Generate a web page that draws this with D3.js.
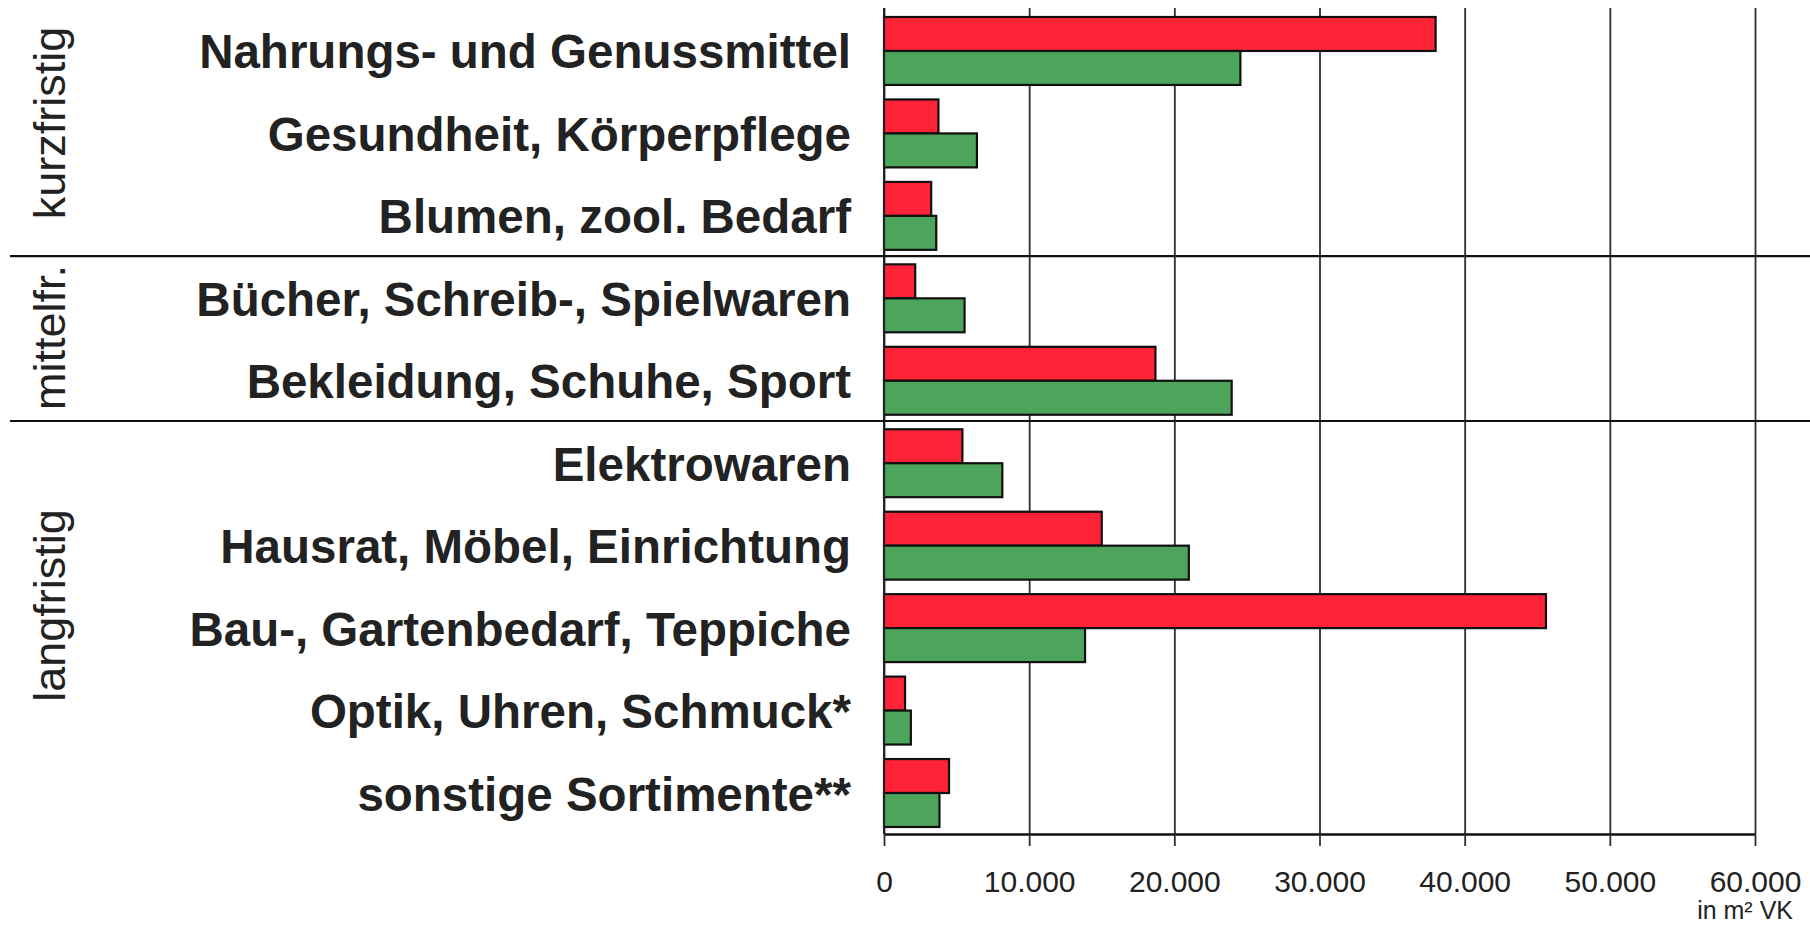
<!DOCTYPE html>
<html>
<head>
<meta charset="utf-8">
<script src="https://cdn.jsdelivr.net/npm/d3@7/dist/d3.min.js"></script>
<style>
  body { margin: 0; background: #fff; }
  svg { display: block; font-family: "Liberation Sans", Arial, sans-serif; }
</style>
</head>
<body>
<div id="chart"></div>
<script>
// Verkaufsfläche je Sortiment (m² VK)
const categories = [
  "Nahrungs- und Genussmittel",
  "Gesundheit, Körperpflege",
  "Blumen, zool. Bedarf",
  "Bücher, Schreib-, Spielwaren",
  "Bekleidung, Schuhe, Sport",
  "Elektrowaren",
  "Hausrat, Möbel, Einrichtung",
  "Bau-, Gartenbedarf, Teppiche",
  "Optik, Uhren, Schmuck*",
  "sonstige Sortimente**"
];
const redValues   = [38000, 3750, 3250, 2150, 18700, 5400, 15000, 45600, 1450, 4480];
const greenValues = [24550, 6400, 3600, 5550, 23950, 8150, 21000, 13850, 1850, 3820];

const groupNames = ["kurzfristig", "mittelfr.", "langfristig"];
const groupSizes = [3, 2, 5];

const xTicks = [0, 10000, 20000, 30000, 40000, 50000, 60000];
const unitLabel = "in m² VK";

// ---- layout ----
const width = 1810, height = 927;
const plotLeft = 884, plotRight = 1755;
const plotTop = 10, plotBottom = 834;
const gridTop = 8;

const svg = d3.select("#chart").append("svg")
  .attr("width", width)
  .attr("height", height);

svg.append("rect").attr("width", width).attr("height", height).attr("fill", "#fff");

const x = d3.scaleLinear().domain([0, 60000]).range([plotLeft, plotRight]);
const y = d3.scaleBand().domain(categories)
  .range([plotTop, plotBottom])
  .paddingInner(0.176)
  .paddingOuter(0.085);

const de = d3.formatLocale({ decimal: ",", thousands: ".", grouping: [3], currency: ["", " €"] });
const fmt = de.format(",");

// gridlines (behind bars)
svg.append("g")
  .attr("transform", `translate(0,${plotBottom})`)
  .call(d3.axisBottom(x).tickValues(xTicks).tickSize(-(plotBottom - gridTop)).tickFormat(""))
  .call(g => g.select(".domain").remove())
  .call(g => g.selectAll(".tick line").attr("stroke", "#2e2e2e").attr("stroke-width", 1.8));

// bars
const bars = svg.append("g");
const half = y.bandwidth() / 2;
const rows = categories.map((c, i) => ({ cat: c, red: redValues[i], green: greenValues[i] }));

bars.selectAll(".bar-red").data(rows).join("rect")
  .attr("class", "bar-red")
  .attr("x", x(0))
  .attr("y", d => y(d.cat))
  .attr("width", d => x(d.red) - x(0))
  .attr("height", half)
  .attr("fill", "#ff2338")
  .attr("stroke", "#111")
  .attr("stroke-width", 2.2);

bars.selectAll(".bar-green").data(rows).join("rect")
  .attr("class", "bar-green")
  .attr("x", x(0))
  .attr("y", d => y(d.cat) + half)
  .attr("width", d => x(d.green) - x(0))
  .attr("height", half)
  .attr("fill", "#4ca55a")
  .attr("stroke", "#111")
  .attr("stroke-width", 2.2);

// bottom axis with ticks and labels
svg.append("g")
  .attr("transform", `translate(0,${plotBottom})`)
  .call(d3.axisBottom(x).tickValues(xTicks).tickSize(12).tickSizeOuter(0).tickPadding(25).tickFormat(fmt))
  .call(g => g.select(".domain").attr("stroke", "#111").attr("stroke-width", 2.6))
  .call(g => g.selectAll(".tick line").attr("stroke", "#2e2e2e").attr("stroke-width", 1.8))
  .call(g => g.selectAll(".tick text")
    .attr("font-size", 30)
    .attr("font-family", "'Liberation Sans', Arial, sans-serif")
    .attr("fill", "#222"));

// zero line
svg.append("line")
  .attr("x1", x(0)).attr("x2", x(0))
  .attr("y1", gridTop).attr("y2", plotBottom)
  .attr("stroke", "#222").attr("stroke-width", 2);

svg.append("text")
  .attr("x", 1793).attr("y", 919)
  .attr("text-anchor", "end")
  .attr("font-size", 25)
  .attr("fill", "#222")
  .text(unitLabel);

// category labels
svg.append("g").selectAll("text").data(categories).join("text")
  .attr("x", 851)
  .attr("y", d => y(d) + y.bandwidth() / 2 + 17.5)
  .attr("text-anchor", "end")
  .attr("font-size", 47.5)
  .attr("font-weight", "bold")
  .attr("fill", "#222")
  .text(d => d);

// group separators and group labels
const labelShift = [-10, -1, -22];
let start = 0;
const bounds = [plotTop];
groupSizes.forEach((n, gi) => {
  const last = categories[start + n - 1];
  if (gi < groupSizes.length - 1) {
    const next = categories[start + n];
    const yy = (y(last) + y.bandwidth() + y(next)) / 2 - 1;
    bounds.push(yy);
    svg.append("line")
      .attr("x1", 10).attr("x2", width)
      .attr("y1", yy).attr("y2", yy)
      .attr("stroke", "#111").attr("stroke-width", 2.2);
  } else {
    bounds.push(plotBottom);
  }
  start += n;
});

svg.append("g").selectAll("text").data(groupNames).join("text")
  .attr("transform", (d, i) => `translate(65,${(bounds[i] + bounds[i + 1]) / 2 + labelShift[i]}) rotate(-90)`)
  .attr("text-anchor", "middle")
  .attr("font-size", 45)
  .attr("fill", "#222")
  .text(d => d);
</script>
</body>
</html>
